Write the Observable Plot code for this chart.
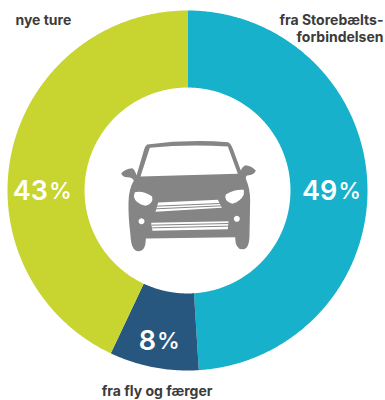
<!DOCTYPE html>
<html lang="da">
<head>
<meta charset="utf-8">
<script src="https://cdn.jsdelivr.net/npm/d3@7"></script>
<script src="https://cdn.jsdelivr.net/npm/@observablehq/plot@0.6"></script>
<style>
  html, body { margin: 0; padding: 0; background: #fff; }
  svg { display: block; }
</style>
</head>
<body>
<script>
// Where the new traffic comes from, in percent, clockwise from twelve o'clock
const sources = ["fra Storebælts-forbindelsen", "fra fly og færger", "nye ture"];
const shares = [49, 8, 43];
const sliceColors = ["#17b1cb", "#27577f", "#c8d42f"];

// Ring proportions, relative to the outer radius
const innerRadius = 0.572;
const outerRadius = 1;

// Slice outlines: outer arc forward, inner arc back, one vertex per half degree
const ends = d3.cumsum(shares);
const outlines = sources.flatMap((source, i) => {
  const start = (i ? ends[i - 1] : 0) * 3.6;
  const stop = ends[i] * 3.6;
  const angles = d3.range(start, stop, 0.5).concat(stop);
  const onRing = (r) => (deg) => {
    const a = (deg * Math.PI) / 180;
    return { source, px: r * Math.sin(a), py: r * Math.cos(a) };
  };
  return [...angles.map(onRing(outerRadius)), ...angles.reverse().map(onRing(innerRadius))];
});

// Front view of the car, drawn in its own 540×420 icon space
const carIcon = `<svg xmlns="http://www.w3.org/2000/svg" viewBox="0 0 540 420">
<path fill="#858585" fill-rule="evenodd" d="M140 72Q260 56 383 65Q392 70 397 85L421 150Q425 138 436 134Q455 137 466 150Q462 163 440 165Q434 168 437 178Q449 205 449 240L447 345Q446 386 428 386Q404 388 404 350L136 354Q136 392 114 392Q92 392 90 345Q83 290 84 245Q85 205 100 180Q96 170 80 170Q66 170 62 158Q75 145 95 143Q104 148 108 165L130 90Q134 76 140 72Z
M148 82L120 168L412 160L382 78Q260 70 148 82Z
M103 215Q130 210 155 228Q160 250 135 256Q105 250 100 228Z
M430 208Q400 206 376 222Q368 240 395 250Q420 244 430 222Z
M173 246L352 238L364 262L165 274Z
M152 307L384 302L382 326L156 331Z
M123 293a9 9 0 1 0 .01 0Z
M409 286a9 9 0 1 0 .01 0Z"/>
<path stroke="#858585" stroke-width="3" fill="none" d="M168 257L358 249M166 265L362 256M154 314L384 309M155 322L383 317"/>
</svg>`;
const carSrc = "data:image/svg+xml;utf8," + encodeURIComponent(carIcon);

const textColor = "#3b3b3b";
const fontFamily = "Inter, 'Open Sans', sans-serif";
const nameStyle = { fill: textColor, fontSize: 14, fontWeight: 700, fontFamily };

// The figure and its percent sign meet at these positions inside each slice
const splitX = [0.832, -0.175, -0.775];
const splitY = [-0.006, -0.839, -0.006];

const chart = Plot.plot({
  width: 385,
  height: 400,
  margin: 0,
  style: { background: "#fff" },
  x: { domain: [-1, 1], range: [7, 367], axis: null },
  y: { domain: [-1, 1], range: [370, 10], axis: null },
  color: { domain: sources, range: sliceColors },
  marks: [
    Plot.line(outlines, {
      x: "px", y: "py", z: "source", fill: "source",
      stroke: "none", curve: "linear-closed"
    }),
    Plot.image([0], {
      x: () => 0, y: () => 0, src: () => carSrc,
      width: 180, height: 140, dx: 3
    }),
    // Percentages inside the ring, with a lighter, smaller percent sign
    Plot.text(shares, {
      x: splitX, y: splitY, text: (d) => String(d), textAnchor: "end",
      fill: "#fff", fontFamily, fontWeight: 600, fontSize: 27
    }),
    Plot.text(shares, {
      x: splitX, y: splitY, text: () => "%", textAnchor: "start", dx: 1,
      fill: "#fff", fontFamily, fontWeight: 500, fontSize: 23
    }),
    // Source names around the ring
    Plot.text(["nye ture"], {
      x: [-0.956], y: [0.944], text: (d) => d, textAnchor: "start", ...nameStyle
    }),
    Plot.text(["fra Storebælts-\nforbindelsen"], {
      x: [1.089], y: [0.903], text: (d) => d, textAnchor: "end", lineHeight: 1.21, ...nameStyle
    }),
    Plot.text(["fra fly og færger"], {
      x: [-0.169], y: [-1.117], text: (d) => d, ...nameStyle
    })
  ]
});
document.body.appendChild(chart);
</script>
</body>
</html>
